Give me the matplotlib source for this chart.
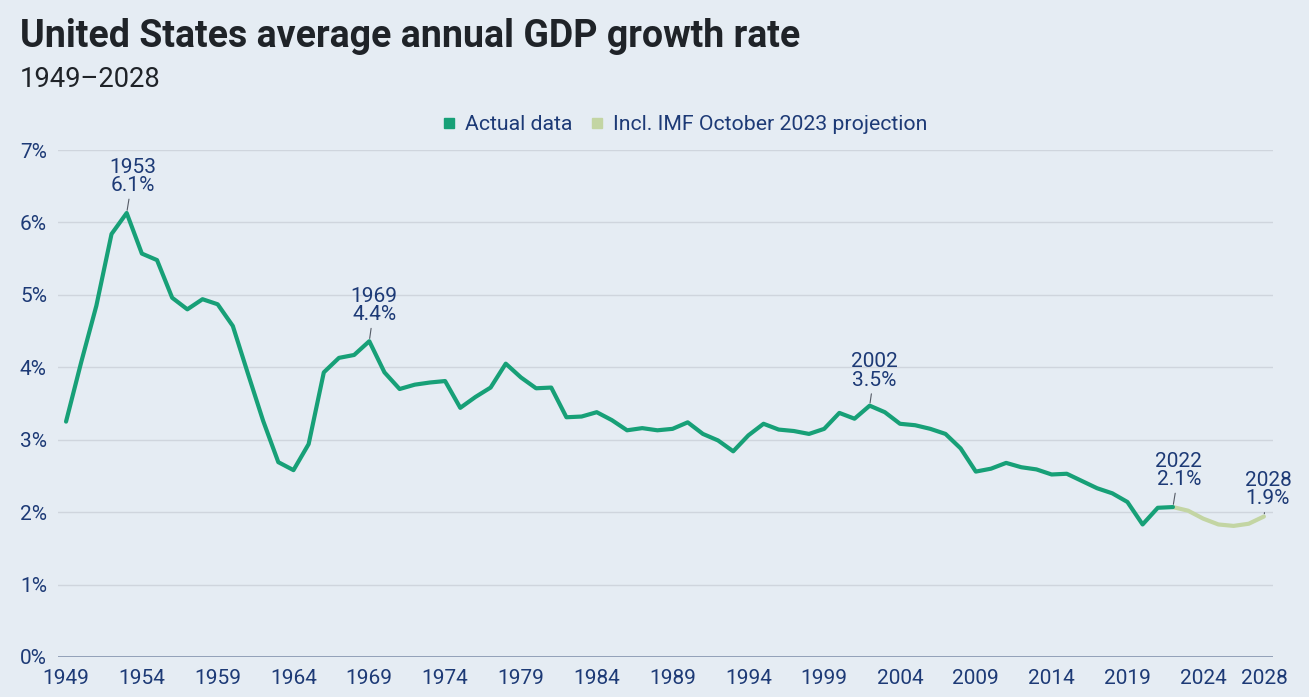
import matplotlib
matplotlib.use("Agg")
import matplotlib.pyplot as plt
from matplotlib.lines import Line2D

plt.rcParams["font.family"] = ["Roboto", "DejaVu Sans"]

# Average annual GDP growth rate (%), actual data 1949-2022
actual_years = list(range(1949, 2023))
actual_values = [
    3.25, 4.07, 4.85, 5.84, 6.13, 5.57, 5.48, 4.96, 4.80, 4.94,  # 1949-1958
    4.87, 4.57, 3.91, 3.26, 2.69, 2.58, 2.94, 3.93, 4.13, 4.17,  # 1959-1968
    4.36, 3.93, 3.70, 3.76, 3.79, 3.81, 3.44, 3.59, 3.72, 4.05,  # 1969-1978
    3.86, 3.71, 3.72, 3.31, 3.32, 3.38, 3.27, 3.13, 3.16, 3.13,  # 1979-1988
    3.15, 3.24, 3.08, 2.99, 2.84, 3.06, 3.22, 3.14, 3.12, 3.08,  # 1989-1998
    3.15, 3.37, 3.29, 3.47, 3.38, 3.22, 3.20, 3.15, 3.08, 2.88,  # 1999-2008
    2.56, 2.60, 2.68, 2.62, 2.59, 2.52, 2.53, 2.43, 2.33, 2.26,  # 2009-2018
    2.14, 1.83, 2.06, 2.07,                                      # 2019-2022
]

# Including IMF October 2023 projection, 2022-2028
proj_years = list(range(2022, 2029))
proj_values = [2.07, 2.02, 1.91, 1.83, 1.81, 1.84, 1.94]

# Highlighted points: (year, label offset in pixels)
highlights = [(1953, 6, 18), (1969, 5, 17), (2002, 5, 16), (2022, 6, 18), (2028, 4, 8)]

x_ticks = [1949, 1954, 1959, 1964, 1969, 1974, 1979, 1984, 1989, 1994,
           1999, 2004, 2009, 2014, 2019, 2024, 2028]
y_ticks = [0, 1, 2, 3, 4, 5, 6, 7]

BG = "#e5ecf3"
GREEN = "#17a077"
PALE = "#c3d5a3"
NAVY = "#1d3a76"

W, H = 1309, 697
fig = plt.figure(figsize=(W / 100, H / 100), dpi=100, facecolor=BG)
ax = fig.add_axes([58 / W, 1 - 657 / H, (1273 - 58) / W, (657 - 150) / H])
ax.set_facecolor(BG)

ax.plot(proj_years, proj_values, color=PALE, lw=3.0, solid_joinstyle="round",
        solid_capstyle="round", zorder=3)
ax.plot(actual_years, actual_values, color=GREEN, lw=3.0, solid_joinstyle="round",
        solid_capstyle="round", zorder=4)

ax.set_xlim(1948.47, 2028.6)
ax.set_ylim(0, 7)

for s in ax.spines.values():
    s.set_visible(False)

ax.set_yticks(y_ticks)
ax.set_yticklabels([f"{v}%" for v in y_ticks])
ax.set_xticks(x_ticks)
ax.set_xticklabels([str(y) for y in x_ticks])
ax.tick_params(axis="y", length=0, pad=27.4, labelsize=15, labelcolor=NAVY)
ax.tick_params(axis="x", length=0, pad=8.5, labelsize=15, labelcolor=NAVY)
for lab in ax.get_yticklabels():
    lab.set_horizontalalignment("left")

ax.yaxis.grid(True, color="#cfd5dd", lw=1.0)
ax.set_axisbelow(True)
ax.axhline(0, color="#8c9bb4", lw=1.3, zorder=2)

all_years = actual_years + proj_years[1:]
all_values = actual_values + proj_values[1:]
for year, dx, dy in highlights:
    v = all_values[all_years.index(year)]
    ax.annotate(f"{year}\n{v:.1f}%", xy=(year, v), xytext=(dx, dy),
                textcoords="offset pixels", ha="center", va="bottom",
                fontsize=15, color=NAVY, linespacing=0.95, zorder=6,
                annotation_clip=False,
                arrowprops=dict(arrowstyle="-", color="#555b66", lw=0.8,
                                shrinkA=1, shrinkB=2))

fig.text(20 / W, 1 - 47 / H, "United States average annual GDP growth rate",
         fontsize=27, fontweight="bold", color="#1f2328", va="baseline", ha="left")
fig.text(20 / W, 1 - 87 / H, "1949\u20132028", fontsize=19.7, color="#1f2328",
         va="baseline", ha="left")

handles = [
    Line2D([], [], marker="s", linestyle="none", markersize=7, color=GREEN,
           label="Actual data"),
    Line2D([], [], marker="s", linestyle="none", markersize=7, color=PALE,
           label="Incl. IMF October 2023 projection"),
]
leg = fig.legend(handles=handles, loc="center", bbox_to_anchor=(685 / W, 1 - 125 / H),
                 ncol=2, frameon=False, fontsize=15.3, handlelength=0.6,
                 handletextpad=0.45, columnspacing=0.9)
for t in leg.get_texts():
    t.set_color(NAVY)

fig.savefig("out.png", dpi=100, facecolor=BG)
